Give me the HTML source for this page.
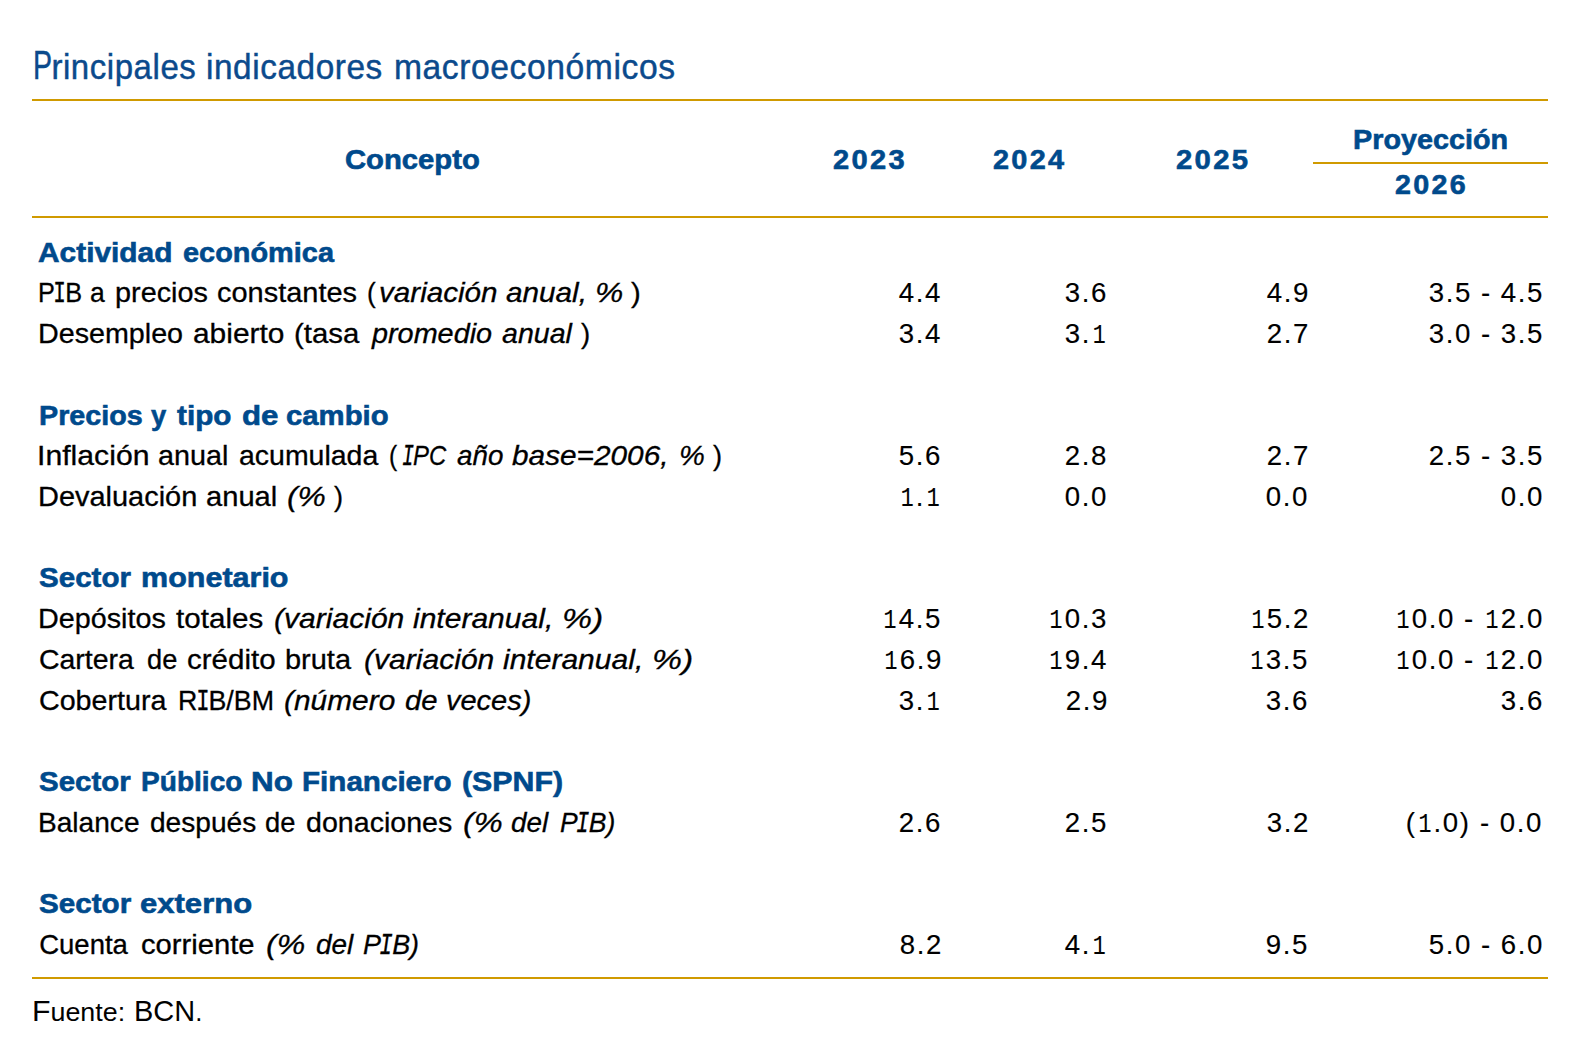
<!DOCTYPE html>
<html lang="es"><head><meta charset="utf-8"><title>Principales indicadores macroeconómicos</title>
<style>
*{margin:0;padding:0;box-sizing:border-box}
html,body{width:1582px;height:1052px;background:#fff;overflow:hidden}
body{position:relative;font-family:"Liberation Sans",sans-serif;color:#000}
.t{position:absolute;white-space:nowrap;line-height:0;display:block}
.ln{position:absolute;background:#d09a00}
.m{font-family:"Liberation Mono",monospace;font-size:1.04em;display:inline-block;transform:scaleX(0.8);margin:0 -0.1em}
.b{-webkit-text-stroke:0.6px #004a8c}
.r{-webkit-text-stroke:0.3px #000}
.ls{letter-spacing:2.2px}
.n{letter-spacing:1.6px;-webkit-text-stroke:0.15px #000}
.fc{font-size:1.13em}
.tt{-webkit-text-stroke:0.45px #0b4a8c;letter-spacing:0.6px}
.m1{font-family:"Liberation Mono",monospace;font-size:1.0em;letter-spacing:0.4px;display:inline-block;transform:scaleX(0.78)}
</style></head>
<body>
<div class="ln" style="left:32px;top:99px;width:1516px;height:2px"></div>
<div class="ln" style="left:1313px;top:162px;width:235px;height:2px"></div>
<div class="ln" style="left:32px;top:216px;width:1516px;height:2px"></div>
<div class="ln" style="left:32px;top:977px;width:1516px;height:2px"></div>
<div class="t tt" style="font-size:34.5px;color:#0b4a8c;left:32.68px;transform-origin:0 0;top:65.00px;transform:scaleX(0.9554)"><span style="font-size:1.17em;letter-spacing:0;display:inline-block;transform:scaleX(0.74);transform-origin:0 0;margin-right:-0.19em">P</span>rincipales</div>
<div class="t tt" style="font-size:34.5px;color:#0b4a8c;left:206.26px;transform-origin:0 0;top:67.00px;transform:scaleX(0.9661)">indicadores</div>
<div class="t tt" style="font-size:34.5px;color:#0b4a8c;left:393.64px;transform-origin:0 0;top:67.00px;transform:scaleX(0.9745)">macroeconómicos</div>
<div class="t b" style="font-size:27.5px;font-weight:bold;color:#004a8c;left:344.73px;transform-origin:0 0;top:160.00px;transform:scaleX(1.0632)">Concepto</div>
<div class="t b" style="font-size:27.5px;font-weight:bold;color:#004a8c;left:833.35px;transform-origin:0 0;top:160.00px;transform:scaleX(1.0567)"><span class="ls">2023</span></div>
<div class="t b" style="font-size:27.5px;font-weight:bold;color:#004a8c;left:992.98px;transform-origin:0 0;top:160.00px;transform:scaleX(1.0485)"><span class="ls">2024</span></div>
<div class="t b" style="font-size:27.5px;font-weight:bold;color:#004a8c;left:1176.35px;transform-origin:0 0;top:160.00px;transform:scaleX(1.0642)"><span class="ls">2025</span></div>
<div class="t b" style="font-size:27.5px;font-weight:bold;color:#004a8c;left:1352.93px;transform-origin:0 0;top:140.00px;transform:scaleX(1.0459)">Proyección</div>
<div class="t b" style="font-size:27.5px;font-weight:bold;color:#004a8c;left:1395.20px;transform-origin:0 0;top:185.00px;transform:scaleX(1.0426)"><span class="ls">2026</span></div>
<div class="t b" style="font-size:28.5px;font-weight:bold;color:#004a8c;left:37.98px;transform-origin:0 0;top:252.01px;transform:scaleX(1.0480)">Actividad</div>
<div class="t b" style="font-size:28.5px;font-weight:bold;color:#004a8c;left:182.59px;transform-origin:0 0;top:252.01px;transform:scaleX(1.0141)">económica</div>
<div class="t r" style="font-size:27.5px;left:38.16px;transform-origin:0 0;top:293.00px;transform:scaleX(0.9178)">P<span class="m">I</span>B</div>
<div class="t r" style="font-size:27.5px;left:90.08px;transform-origin:0 0;top:293.00px;transform:scaleX(0.9649)">a</div>
<div class="t r" style="font-size:27.5px;left:114.54px;transform-origin:0 0;top:293.00px;transform:scaleX(1.0483)">precios</div>
<div class="t r" style="font-size:27.5px;left:216.95px;transform-origin:0 0;top:293.00px;transform:scaleX(1.0530)">constantes</div>
<div class="t r" style="font-size:27.5px;left:367.07px;transform-origin:0 0;top:293.00px;transform:scaleX(0.9500)">(</div>
<div class="t r" style="font-size:27.5px;left:378.72px;transform-origin:0 0;top:293.00px;transform:scaleX(1.0769)"><i>variación</i></div>
<div class="t r" style="font-size:27.5px;left:506.00px;transform-origin:0 0;top:293.00px;transform:scaleX(1.0806)"><i>anual,</i></div>
<div class="t r" style="font-size:27.5px;left:595.06px;transform-origin:0 0;top:293.00px;transform:scaleX(1.1565)"><i>%</i></div>
<div class="t r" style="font-size:27.5px;left:631.41px;transform-origin:0 0;top:293.00px;transform:scaleX(1.0625)">)</div>
<div class="t n" style="font-size:27.5px;right:639.99px;transform-origin:100% 0;top:293.00px;transform:scaleX(1.0050)">4.4</div>
<div class="t n" style="font-size:27.5px;right:473.99px;transform-origin:100% 0;top:293.00px;transform:scaleX(1.0050)">3.6</div>
<div class="t n" style="font-size:27.5px;right:271.98px;transform-origin:100% 0;top:293.00px;transform:scaleX(1.0050)">4.9</div>
<div class="t n" style="font-size:27.5px;right:109.99px;transform-origin:100% 0;top:293.00px;transform:scaleX(1.0050)">3.5</div>
<div class="t n" style="font-size:27.5px;right:90.39px;transform-origin:100% 0;top:293.00px;transform:scaleX(1.0050)">-</div>
<div class="t n" style="font-size:27.5px;right:37.99px;transform-origin:100% 0;top:293.00px;transform:scaleX(1.0050)">4.5</div>
<div class="t r" style="font-size:27.5px;left:37.71px;transform-origin:0 0;top:334.00px;transform:scaleX(1.0426)">Desempleo</div>
<div class="t r" style="font-size:27.5px;left:192.96px;transform-origin:0 0;top:334.00px;transform:scaleX(1.0867)">abierto</div>
<div class="t r" style="font-size:27.5px;left:293.90px;transform-origin:0 0;top:334.00px;transform:scaleX(1.0683)">(tasa</div>
<div class="t r" style="font-size:27.5px;left:371.66px;transform-origin:0 0;top:334.00px;transform:scaleX(1.0474)"><i>promedio</i></div>
<div class="t r" style="font-size:27.5px;left:502.18px;transform-origin:0 0;top:334.00px;transform:scaleX(1.0382)"><i>anual</i></div>
<div class="t r" style="font-size:27.5px;left:581.00px;transform-origin:0 0;top:334.00px">)</div>
<div class="t n" style="font-size:27.5px;right:639.99px;transform-origin:100% 0;top:334.00px;transform:scaleX(1.0050)">3.4</div>
<div class="t n" style="font-size:27.5px;right:474.39px;transform-origin:100% 0;top:334.00px;transform:scaleX(1.0050)">3.<span class="m1">1</span></div>
<div class="t n" style="font-size:27.5px;right:271.98px;transform-origin:100% 0;top:334.00px;transform:scaleX(1.0050)">2.7</div>
<div class="t n" style="font-size:27.5px;right:109.99px;transform-origin:100% 0;top:334.00px;transform:scaleX(1.0050)">3.0</div>
<div class="t n" style="font-size:27.5px;right:90.39px;transform-origin:100% 0;top:334.00px;transform:scaleX(1.0050)">-</div>
<div class="t n" style="font-size:27.5px;right:37.99px;transform-origin:100% 0;top:334.00px;transform:scaleX(1.0050)">3.5</div>
<div class="t b" style="font-size:28.5px;font-weight:bold;color:#004a8c;left:38.99px;transform-origin:0 0;top:415.01px;transform:scaleX(1.0079)">Precios</div>
<div class="t b" style="font-size:28.5px;font-weight:bold;color:#004a8c;left:150.98px;transform-origin:0 0;top:415.01px;transform:scaleX(0.9588)">y</div>
<div class="t b" style="font-size:28.5px;font-weight:bold;color:#004a8c;left:176.80px;transform-origin:0 0;top:415.01px;transform:scaleX(1.0423)">tipo</div>
<div class="t b" style="font-size:28.5px;font-weight:bold;color:#004a8c;left:241.53px;transform-origin:0 0;top:415.01px;transform:scaleX(1.0969)">de</div>
<div class="t b" style="font-size:28.5px;font-weight:bold;color:#004a8c;left:286.38px;transform-origin:0 0;top:415.01px;transform:scaleX(1.0283)">cambio</div>
<div class="t r" style="font-size:27.5px;left:36.55px;transform-origin:0 0;top:456.00px;transform:scaleX(1.0980)">Inflación</div>
<div class="t r" style="font-size:27.5px;left:158.18px;transform-origin:0 0;top:456.00px;transform:scaleX(1.0455)">anual</div>
<div class="t r" style="font-size:27.5px;left:238.59px;transform-origin:0 0;top:456.00px;transform:scaleX(1.0348)">acumulada</div>
<div class="t r" style="font-size:27.5px;left:389.36px;transform-origin:0 0;top:456.00px;transform:scaleX(0.8875)">(</div>
<div class="t r" style="font-size:27.5px;left:403.06px;transform-origin:0 0;top:456.00px;transform:scaleX(0.8686)"><i><span class="m">I</span>PC</i></div>
<div class="t r" style="font-size:27.5px;left:456.60px;transform-origin:0 0;top:456.00px;transform:scaleX(1.0109)"><i>año</i></div>
<div class="t r" style="font-size:27.5px;left:512.38px;transform-origin:0 0;top:456.00px;transform:scaleX(1.0830)"><i>base=2006,</i></div>
<div class="t r" style="font-size:27.5px;left:678.53px;transform-origin:0 0;top:456.00px;transform:scaleX(1.0565)"><i>%</i></div>
<div class="t r" style="font-size:27.5px;left:713.00px;transform-origin:0 0;top:456.00px;transform:scaleX(0.9875)">)</div>
<div class="t n" style="font-size:27.5px;right:639.99px;transform-origin:100% 0;top:456.00px;transform:scaleX(1.0050)">5.6</div>
<div class="t n" style="font-size:27.5px;right:473.99px;transform-origin:100% 0;top:456.00px;transform:scaleX(1.0050)">2.8</div>
<div class="t n" style="font-size:27.5px;right:271.98px;transform-origin:100% 0;top:456.00px;transform:scaleX(1.0050)">2.7</div>
<div class="t n" style="font-size:27.5px;right:109.99px;transform-origin:100% 0;top:456.00px;transform:scaleX(1.0050)">2.5</div>
<div class="t n" style="font-size:27.5px;right:90.39px;transform-origin:100% 0;top:456.00px;transform:scaleX(1.0050)">-</div>
<div class="t n" style="font-size:27.5px;right:37.99px;transform-origin:100% 0;top:456.00px;transform:scaleX(1.0050)">3.5</div>
<div class="t r" style="font-size:27.5px;left:37.89px;transform-origin:0 0;top:497.00px;transform:scaleX(1.0527)">Devaluación</div>
<div class="t r" style="font-size:27.5px;left:205.74px;transform-origin:0 0;top:497.00px;transform:scaleX(1.0585)">anual</div>
<div class="t r" style="font-size:27.5px;left:287.14px;transform-origin:0 0;top:497.00px;transform:scaleX(1.1576)"><i>(%</i></div>
<div class="t r" style="font-size:27.5px;left:334.20px;transform-origin:0 0;top:497.00px;transform:scaleX(0.9875)">)</div>
<div class="t n" style="font-size:27.5px;right:640.39px;transform-origin:100% 0;top:497.00px;transform:scaleX(1.0050)"><span class="m1">1</span>.<span class="m1">1</span></div>
<div class="t n" style="font-size:27.5px;right:473.99px;transform-origin:100% 0;top:497.00px;transform:scaleX(1.0050)">0.0</div>
<div class="t n" style="font-size:27.5px;right:272.99px;transform-origin:100% 0;top:497.00px;transform:scaleX(1.0050)">0.0</div>
<div class="t n" style="font-size:27.5px;right:37.99px;transform-origin:100% 0;top:497.00px;transform:scaleX(1.0050)">0.0</div>
<div class="t b" style="font-size:28.5px;font-weight:bold;color:#004a8c;left:38.78px;transform-origin:0 0;top:577.01px;transform:scaleX(1.0375)">Sector</div>
<div class="t b" style="font-size:28.5px;font-weight:bold;color:#004a8c;left:140.52px;transform-origin:0 0;top:577.01px;transform:scaleX(1.0706)">monetario</div>
<div class="t r" style="font-size:27.5px;left:37.50px;transform-origin:0 0;top:619.00px;transform:scaleX(1.0450)">Depósitos</div>
<div class="t r" style="font-size:27.5px;left:176.00px;transform-origin:0 0;top:619.00px;transform:scaleX(1.0765)">totales</div>
<div class="t r" style="font-size:27.5px;left:273.53px;transform-origin:0 0;top:619.00px;transform:scaleX(1.0932)"><i>(variación</i></div>
<div class="t r" style="font-size:27.5px;left:412.58px;transform-origin:0 0;top:619.00px;transform:scaleX(1.0920)"><i>interanual,</i></div>
<div class="t r" style="font-size:27.5px;left:562.10px;transform-origin:0 0;top:619.00px;transform:scaleX(1.2290)"><i>%)</i></div>
<div class="t n" style="font-size:27.5px;right:639.99px;transform-origin:100% 0;top:619.00px;transform:scaleX(1.0050)"><span class="m1">1</span>4.5</div>
<div class="t n" style="font-size:27.5px;right:473.99px;transform-origin:100% 0;top:619.00px;transform:scaleX(1.0050)"><span class="m1">1</span>0.3</div>
<div class="t n" style="font-size:27.5px;right:271.98px;transform-origin:100% 0;top:619.00px;transform:scaleX(1.0050)"><span class="m1">1</span>5.2</div>
<div class="t n" style="font-size:27.5px;right:126.99px;transform-origin:100% 0;top:619.00px;transform:scaleX(1.0050)"><span class="m1">1</span>0.0</div>
<div class="t n" style="font-size:27.5px;right:106.99px;transform-origin:100% 0;top:619.00px;transform:scaleX(1.0050)">-</div>
<div class="t n" style="font-size:27.5px;right:37.99px;transform-origin:100% 0;top:619.00px;transform:scaleX(1.0050)"><span class="m1">1</span>2.0</div>
<div class="t r" style="font-size:27.5px;left:38.58px;transform-origin:0 0;top:660.00px;transform:scaleX(1.0337)">Cartera</div>
<div class="t r" style="font-size:27.5px;left:146.60px;transform-origin:0 0;top:660.00px;transform:scaleX(0.9900)">de</div>
<div class="t r" style="font-size:27.5px;left:186.96px;transform-origin:0 0;top:660.00px;transform:scaleX(1.0741)">crédito</div>
<div class="t r" style="font-size:27.5px;left:285.13px;transform-origin:0 0;top:660.00px;transform:scaleX(1.0532)">bruta</div>
<div class="t r" style="font-size:27.5px;left:363.53px;transform-origin:0 0;top:660.00px;transform:scaleX(1.0932)"><i>(variación</i></div>
<div class="t r" style="font-size:27.5px;left:502.58px;transform-origin:0 0;top:660.00px;transform:scaleX(1.0920)"><i>interanual,</i></div>
<div class="t r" style="font-size:27.5px;left:652.11px;transform-origin:0 0;top:660.00px;transform:scaleX(1.2258)"><i>%)</i></div>
<div class="t n" style="font-size:27.5px;right:638.98px;transform-origin:100% 0;top:660.00px;transform:scaleX(1.0050)"><span class="m1">1</span>6.9</div>
<div class="t n" style="font-size:27.5px;right:473.99px;transform-origin:100% 0;top:660.00px;transform:scaleX(1.0050)"><span class="m1">1</span>9.4</div>
<div class="t n" style="font-size:27.5px;right:272.99px;transform-origin:100% 0;top:660.00px;transform:scaleX(1.0050)"><span class="m1">1</span>3.5</div>
<div class="t n" style="font-size:27.5px;right:126.99px;transform-origin:100% 0;top:660.00px;transform:scaleX(1.0050)"><span class="m1">1</span>0.0</div>
<div class="t n" style="font-size:27.5px;right:106.99px;transform-origin:100% 0;top:660.00px;transform:scaleX(1.0050)">-</div>
<div class="t n" style="font-size:27.5px;right:37.99px;transform-origin:100% 0;top:660.00px;transform:scaleX(1.0050)"><span class="m1">1</span>2.0</div>
<div class="t r" style="font-size:27.5px;left:38.77px;transform-origin:0 0;top:701.00px;transform:scaleX(1.0418)">Cobertura</div>
<div class="t r" style="font-size:27.5px;left:177.86px;transform-origin:0 0;top:701.00px;transform:scaleX(0.9737)">R<span class="m">I</span>B/BM</div>
<div class="t r" style="font-size:27.5px;left:283.91px;transform-origin:0 0;top:701.00px;transform:scaleX(1.0871)"><i>(número</i></div>
<div class="t r" style="font-size:27.5px;left:404.76px;transform-origin:0 0;top:701.00px;transform:scaleX(1.0633)"><i>de</i></div>
<div class="t r" style="font-size:27.5px;left:445.95px;transform-origin:0 0;top:701.00px;transform:scaleX(1.0544)"><i>veces)</i></div>
<div class="t n" style="font-size:27.5px;right:640.39px;transform-origin:100% 0;top:701.00px;transform:scaleX(1.0050)">3.<span class="m1">1</span></div>
<div class="t n" style="font-size:27.5px;right:472.98px;transform-origin:100% 0;top:701.00px;transform:scaleX(1.0050)">2.9</div>
<div class="t n" style="font-size:27.5px;right:272.99px;transform-origin:100% 0;top:701.00px;transform:scaleX(1.0050)">3.6</div>
<div class="t n" style="font-size:27.5px;right:37.99px;transform-origin:100% 0;top:701.00px;transform:scaleX(1.0050)">3.6</div>
<div class="t b" style="font-size:28.5px;font-weight:bold;color:#004a8c;left:38.98px;transform-origin:0 0;top:781.01px;transform:scaleX(1.0341)">Sector</div>
<div class="t b" style="font-size:28.5px;font-weight:bold;color:#004a8c;left:140.82px;transform-origin:0 0;top:781.01px;transform:scaleX(0.9853)">Público</div>
<div class="t b" style="font-size:28.5px;font-weight:bold;color:#004a8c;left:251.48px;transform-origin:0 0;top:781.01px;transform:scaleX(1.1027)">No</div>
<div class="t b" style="font-size:28.5px;font-weight:bold;color:#004a8c;left:301.55px;transform-origin:0 0;top:781.01px;transform:scaleX(1.0385)">Financiero</div>
<div class="t b" style="font-size:28.5px;font-weight:bold;color:#004a8c;left:461.56px;transform-origin:0 0;top:781.01px;transform:scaleX(1.0638)">(SPNF)</div>
<div class="t r" style="font-size:27.5px;left:38.16px;transform-origin:0 0;top:823.00px;transform:scaleX(1.0216)">Balance</div>
<div class="t r" style="font-size:27.5px;left:149.59px;transform-origin:0 0;top:823.00px;transform:scaleX(1.0214)">después</div>
<div class="t r" style="font-size:27.5px;left:265.41px;transform-origin:0 0;top:823.00px;transform:scaleX(0.9931)">de</div>
<div class="t r" style="font-size:27.5px;left:306.16px;transform-origin:0 0;top:823.00px;transform:scaleX(1.0403)">donaciones</div>
<div class="t r" style="font-size:27.5px;left:462.69px;transform-origin:0 0;top:823.00px;transform:scaleX(1.1844)"><i>(%</i></div>
<div class="t r" style="font-size:27.5px;left:510.79px;transform-origin:0 0;top:823.00px;transform:scaleX(1.0108)"><i>del</i></div>
<div class="t r" style="font-size:27.5px;left:559.80px;transform-origin:0 0;top:823.00px;transform:scaleX(0.9643)"><i>P<span class="m">I</span>B)</i></div>
<div class="t n" style="font-size:27.5px;right:639.99px;transform-origin:100% 0;top:823.00px;transform:scaleX(1.0050)">2.6</div>
<div class="t n" style="font-size:27.5px;right:473.99px;transform-origin:100% 0;top:823.00px;transform:scaleX(1.0050)">2.5</div>
<div class="t n" style="font-size:27.5px;right:271.98px;transform-origin:100% 0;top:823.00px;transform:scaleX(1.0050)">3.2</div>
<div class="t n" style="font-size:27.5px;right:111.79px;transform-origin:100% 0;top:823.00px;transform:scaleX(1.0050)">(<span class="m1">1</span>.0)</div>
<div class="t n" style="font-size:27.5px;right:90.79px;transform-origin:100% 0;top:823.00px;transform:scaleX(1.0050)">-</div>
<div class="t n" style="font-size:27.5px;right:38.79px;transform-origin:100% 0;top:823.00px;transform:scaleX(1.0050)">0.0</div>
<div class="t b" style="font-size:28.5px;font-weight:bold;color:#004a8c;left:38.78px;transform-origin:0 0;top:903.01px;transform:scaleX(1.0398)">Sector</div>
<div class="t b" style="font-size:28.5px;font-weight:bold;color:#004a8c;left:139.75px;transform-origin:0 0;top:903.01px;transform:scaleX(1.0892)">externo</div>
<div class="t r" style="font-size:27.5px;left:39.20px;transform-origin:0 0;top:945.00px">Cuenta</div>
<div class="t r" style="font-size:27.5px;left:140.56px;transform-origin:0 0;top:945.00px;transform:scaleX(1.0613)">corriente</div>
<div class="t r" style="font-size:27.5px;left:266.05px;transform-origin:0 0;top:945.00px;transform:scaleX(1.1656)"><i>(%</i></div>
<div class="t r" style="font-size:27.5px;left:315.60px;transform-origin:0 0;top:945.00px;transform:scaleX(1.0158)"><i>del</i></div>
<div class="t r" style="font-size:27.5px;left:363.21px;transform-origin:0 0;top:945.00px;transform:scaleX(0.9786)"><i>P<span class="m">I</span>B)</i></div>
<div class="t n" style="font-size:27.5px;right:638.98px;transform-origin:100% 0;top:945.00px;transform:scaleX(1.0050)">8.2</div>
<div class="t n" style="font-size:27.5px;right:474.39px;transform-origin:100% 0;top:945.00px;transform:scaleX(1.0050)">4.<span class="m1">1</span></div>
<div class="t n" style="font-size:27.5px;right:272.99px;transform-origin:100% 0;top:945.00px;transform:scaleX(1.0050)">9.5</div>
<div class="t n" style="font-size:27.5px;right:109.99px;transform-origin:100% 0;top:945.00px;transform:scaleX(1.0050)">5.0</div>
<div class="t n" style="font-size:27.5px;right:90.39px;transform-origin:100% 0;top:945.00px;transform:scaleX(1.0050)">-</div>
<div class="t n" style="font-size:27.5px;right:37.99px;transform-origin:100% 0;top:945.00px;transform:scaleX(1.0050)">6.0</div>
<div class="t " style="font-size:26.5px;color:#010101;left:31.77px;transform-origin:0 0;top:1011.01px;transform:scaleX(1.0126)"><span class="fc">F</span>uente:</div>
<div class="t " style="font-size:26.5px;color:#010101;left:134.08px;transform-origin:0 0;top:1011.01px;transform:scaleX(0.9682)"><span class="fc">BCN</span>.</div>
</body></html>
